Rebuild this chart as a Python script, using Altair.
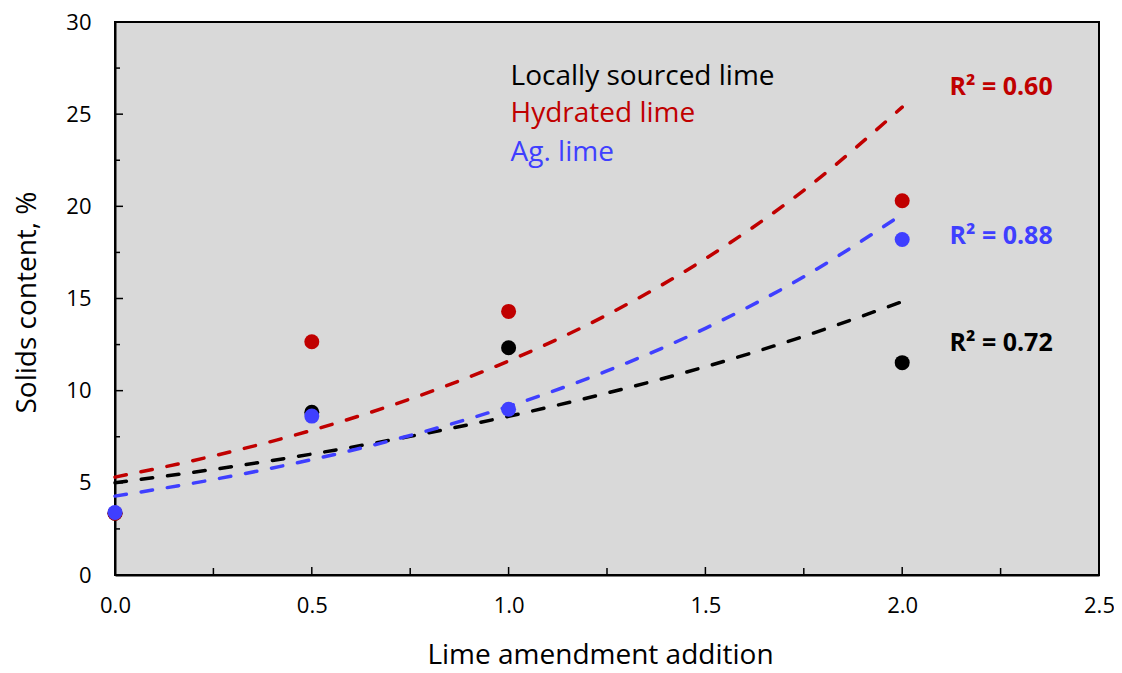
import altair as alt
import pandas as pd

FONT = "Open Sans"

series = ["Locally sourced lime", "Hydrated lime", "Ag. lime"]
colors = ["#000000", "#C00000", "#3F3FFF"]

# observed points
x_obs = [0.0, 0.5, 1.0, 2.0]
y_local = [3.35, 8.83, 12.33, 11.52]
y_hydrated = [3.35, 12.65, 14.30, 20.30]
y_ag = [3.39, 8.62, 8.99, 18.20]

# exponential trendlines
x_trend = [0.0, 0.25, 0.5, 0.75, 1.0, 1.25, 1.5, 1.75, 2.0]
t_local = [5.00, 5.73, 6.56, 7.52, 8.61, 9.87, 11.30, 12.95, 14.83]
t_hydrated = [5.31, 6.46, 7.85, 9.55, 11.61, 14.11, 17.16, 20.87, 25.38]
t_ag = [4.28, 5.18, 6.26, 7.57, 9.15, 11.07, 13.38, 16.18, 19.57]

# annotations
legend_labels = ["Locally sourced lime", "Hydrated lime", "Ag. lime"]
legend_x = [1.005, 1.005, 1.005]
legend_y = [27.0, 25.0, 22.9]
r2_labels = ["R² = 0.72", "R² = 0.60", "R² = 0.88"]
r2_x = [2.12, 2.12, 2.12]
r2_y = [12.6, 26.5, 18.4]

x_ticks_major = [0.0, 0.5, 1.0, 1.5, 2.0, 2.5]
x_ticks_minor = [0.25, 0.75, 1.25, 1.75, 2.25]
y_ticks_major = [0, 5, 10, 15, 20, 25, 30]
y_ticks_minor = [2.5, 7.5, 12.5, 17.5, 22.5, 27.5]

W, H = 984, 553

pts = pd.DataFrame({
    "x": x_obs * 3,
    "y": y_local + y_hydrated + y_ag,
    "series": [series[0]] * 4 + [series[1]] * 4 + [series[2]] * 4,
})
trend = pd.DataFrame({
    "x": x_trend * 3,
    "y": t_local + t_hydrated + t_ag,
    "series": [series[0]] * 9 + [series[1]] * 9 + [series[2]] * 9,
})
leg = pd.DataFrame({"x": legend_x, "y": legend_y, "label": legend_labels, "series": series})
r2 = pd.DataFrame({"x": r2_x, "y": r2_y, "label": r2_labels, "series": series})

xscale = alt.Scale(domain=[0, 2.5], nice=False, zero=False)
yscale = alt.Scale(domain=[0, 30], nice=False)
cscale = alt.Scale(domain=series, range=colors)

xaxis = alt.Axis(values=x_ticks_major, format=".1f", ticks=False, grid=False,
                 labelPadding=20, labelFlush=False, labelOverlap=False,
                 title="Lime amendment addition",
                 titleX=485, titleY=80, titleBaseline="middle")
yaxis = alt.Axis(values=y_ticks_major, format="d", ticks=False, grid=False,
                 labelPadding=24, labelFlush=False, labelOverlap=False,
                 title="Solids content, %",
                 titleX=-88, titleY=280, titleBaseline="middle", titleAlign="center",
                 titleAngle=270)

lines = alt.Chart(trend).mark_line(strokeWidth=3.5, strokeDash=[11.5, 15], strokeCap="round",
                                   interpolate="monotone").encode(
    x=alt.X("x:Q", scale=xscale, axis=xaxis),
    y=alt.Y("y:Q", scale=yscale, axis=yaxis),
    color=alt.Color("series:N", scale=cscale, legend=None),
    detail="series:N",
)

points = alt.Chart(pts).mark_circle(size=225, opacity=1).encode(
    x=alt.X("x:Q", scale=xscale),
    y=alt.Y("y:Q", scale=yscale),
    color=alt.Color("series:N", scale=cscale, legend=None),
)

leg_text = alt.Chart(leg).mark_text(align="left", baseline="middle", font=FONT, fontSize=28).encode(
    x=alt.X("x:Q", scale=xscale),
    y=alt.Y("y:Q", scale=yscale),
    text="label:N",
    color=alt.Color("series:N", scale=cscale, legend=None),
)

r2_text = alt.Chart(r2).mark_text(align="left", baseline="middle", font=FONT, fontSize=25,
                                  fontWeight="bold").encode(
    x=alt.X("x:Q", scale=xscale),
    y=alt.Y("y:Q", scale=yscale),
    text="label:N",
    color=alt.Color("series:N", scale=cscale, legend=None),
)

xt_major = alt.Chart(pd.DataFrame({"v": x_ticks_major})).mark_rule(color="black", strokeWidth=1.5).encode(
    x=alt.X("v:Q", scale=xscale), y=alt.value(H), y2=alt.value(H - 8))
xt_minor = alt.Chart(pd.DataFrame({"v": x_ticks_minor})).mark_rule(color="black", strokeWidth=1.5).encode(
    x=alt.X("v:Q", scale=xscale), y=alt.value(H), y2=alt.value(H - 7))
yt_major = alt.Chart(pd.DataFrame({"v": y_ticks_major})).mark_rule(color="black", strokeWidth=1.5).encode(
    y=alt.Y("v:Q", scale=yscale), x=alt.value(0), x2=alt.value(8))
yt_minor = alt.Chart(pd.DataFrame({"v": y_ticks_minor})).mark_rule(color="black", strokeWidth=1.5).encode(
    y=alt.Y("v:Q", scale=yscale), x=alt.value(0), x2=alt.value(5))

chart = alt.layer(
    lines, points, leg_text, r2_text, xt_major, xt_minor, yt_major, yt_minor
).properties(
    width=W, height=H,
    autosize=alt.AutoSizeParams(type="none"),
    padding={"left": 107, "top": 14, "right": 15, "bottom": 95},
    background="white",
).configure_view(
    fill="#D9D9D9", stroke="black", strokeWidth=2
).configure_axis(
    labelFont=FONT, labelFontSize=22, labelColor="black",
    titleFont=FONT, titleFontSize=28, titleFontWeight="normal", titleColor="black",
    domainColor="black", domainWidth=2,
)

chart.save("out.html", embed_options={"renderer": "svg", "actions": False})
